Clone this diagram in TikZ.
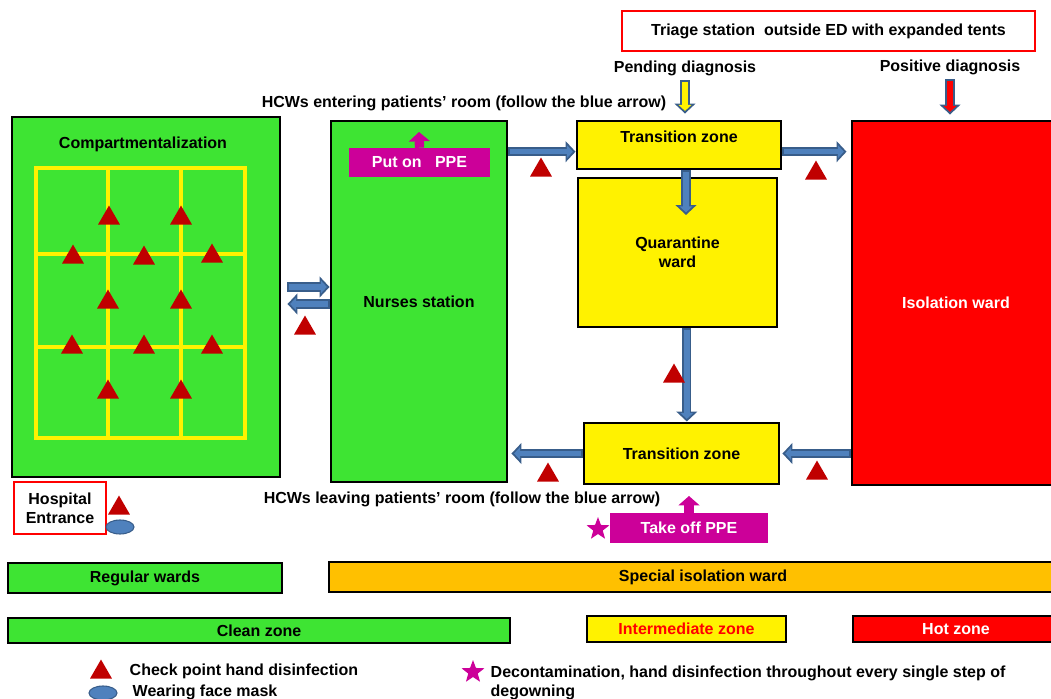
\documentclass[tikz,border=0pt]{standalone}
\usepackage{fontspec}
\setmainfont{Liberation Sans}
\usetikzlibrary{shapes.geometric,arrows.meta,fit,calc}
\definecolor{wardgreen}{HTML}{3EE433}
\definecolor{amber}{HTML}{FFC000}
\definecolor{gown}{HTML}{CC0099}
\definecolor{chkred}{HTML}{C00000}
\definecolor{bluefill}{HTML}{4F81BD}
\definecolor{bluedark}{HTML}{385D8A}
\begin{document}
\begin{tikzpicture}[x=0.75pt, y=-0.75pt, every node/.style={font=\bfseries\fontsize{12}{14.25}\selectfont}]
	\tikzstyle{box} = [draw=black, line width=2.2pt, inner sep=0pt]
	\tikzstyle{gr} = [box, fill=wardgreen]
	\tikzstyle{yl} = [box, fill=yellow]
	\tikzstyle{rd} = [box, fill=red]
	\tikzstyle{or} = [box, fill=amber]
	\tikzstyle{note} = [draw=red, line width=1.5pt, fill=white, inner sep=0pt]
	\tikzstyle{ppe} = [fill=gown, inner sep=0pt]
	\tikzstyle{walls} = [draw=yellow, line width=2.4pt]
	\tikzstyle{tri} = [regular polygon, regular polygon sides=3, fill=chkred, minimum size=19pt, inner sep=0pt, yshift=-2.4pt]
	\tikzstyle{st} = [star, star points=5, star point ratio=2.4, fill=gown, minimum size=18pt, inner sep=0pt]
	\tikzstyle{ms} = [ellipse, draw=bluedark, line width=0.8pt, fill=bluefill, minimum width=21pt, minimum height=10.5pt, inner sep=0pt]
	\tikzstyle{flow}[bluefill] = [draw=bluedark, line width=6.8pt, -{Triangle[length=7.5pt,width=15.5pt]}, postaction={draw=#1, line width=4pt, shorten <=1.2pt, shorten >=2pt, -{Triangle[length=4.5pt,width=9.5pt]}}]
	\tikzstyle{pup} = [draw=gown, line width=7pt, -{Triangle[length=7pt,width=15.5pt]}]
	\useasboundingbox (0,0) rectangle (1051,699);
	\node[gr, fit={(12,117) (280,477)}] (comp) {};
	\node (comptitle) at (143,144) {Compartmentalization};
	\draw[walls] (36,168) rectangle (245,438);
	\foreach \gx in {108,181} \draw[walls] (\gx,168) -- (\gx,438);
	\foreach \gy in {254,347} \draw[walls] (36,\gy) -- (245,\gy);
	\foreach \tx/\ty [count=\i] in {109/215,181/215,73/254,144/255,212/253,108/299,181/299,72/344,144/344,212/344,108/389,181/389}
		\node[tri] (cell\i) at (\tx,\ty) {};
	\node[gr, fit={(331,121) (507,482)}, label=center:Nurses station] (nurse) {};
	\node[ppe, fit={(349,148) (490,177)}, label={[white]center:Put on\ \ \ PPE}] (puton) {};
	\coordinate (putontip) at (419,132);
	\draw[pup] (puton.north) -- (putontip);
	\node (enter) at (464,103) {HCWs entering patients' room (follow the blue arrow)};
	\node[yl, fit={(577,121) (781,169)}] (tz1) {};
	\node (tz1lbl) at (679,137) {Transition zone};
	\node[note, fit={(622,11) (1035,51)}, label=center:{Triage station\ \ outside ED with expanded tents}] (triage) {};
	\node (pend) at (685,68) {Pending diagnosis};
	\node (posd) at (950,67) {Positive diagnosis};
	\node[rd, fit={(852,121) (1060,485)}, label={[white]center:Isolation ward}] (iso) {};
	\node[yl, fit={(578,178) (777,327)}, label={[align=center]center:{Quarantine\\ward}}] (quar) {};
	\node[yl, fit={(584,423) (779,484)}, label=center:Transition zone] (tz2) {};
	\node (leave) at (462,499) {HCWs leaving patients' room (follow the blue arrow)};
	\node[ppe, fit={(610,513) (768,543)}, label={[white]center:Take off PPE}] (takeoff) {};
	\coordinate (takeofftip) at (689,496);
	\draw[pup] (takeoff.north) -- (takeofftip);
	\node[st] (decon) at (598,529) {};
	\node[note, fit={(14,482) (106,534)}, label={[align=center]center:{Hospital\\Entrance}}] (entr) {};
	\node[tri] (entrchk) at (119,505) {};
	\node[ms] (entrmask) at (120,527) {};
	\coordinate (inr) at (300,287);
	\coordinate (outl) at (300,304);
	\draw[flow] ($(comp.east |- inr)+(6,0)$) -- (nurse.west |- inr);
	\draw[flow] (nurse.west |- outl) -- ($(comp.east |- outl)+(6,0)$);
	\node[tri] (chkin) at (305,325) {};
	\coordinate (upper) at ([yshift=-5pt]tz1.west);
	\draw[flow] (nurse.east |- upper) -- (upper);
	\draw[flow] (tz1.east |- upper) -- ($(iso.west |- upper)+(-4,0)$);
	\node[tri] (chkput) at (541,167) {};
	\node[tri] (chkiso) at (816,170) {};
	\draw[flow=yellow] (pend.south) -- ($(pend.south |- tz1.north)+(0,-6)$);
	\draw[flow=red] (posd.south) -- ($(posd.south |- iso.north)+(0,-5)$);
	\coordinate (qin) at (686,215);
	\draw[flow] (tz1.south -| qin) -- (qin);
	\coordinate (qout) at ([xshift=7pt]quar.south);
	\draw[flow] (qout) -- (qout |- tz2.north);
	\node[tri] (chkquar) at (674,373) {};
	\draw[flow] (iso.west |- tz2) -- ($(tz2.east)+(2,0)$);
	\draw[flow] (tz2.west) -- ($(nurse.east |- tz2)+(3,0)$);
	\node[tri] (chkhot) at (817,470) {};
	\node[tri] (chkout) at (548,472) {};
	\node[gr, fit={(8,563) (282,593)}, label=center:Regular wards] (regular) {};
	\node[or, fit={(329,562) (1077,592)}, label=center:Special isolation ward] (special) {};
	\node[gr, fit={(8,618) (510,643)}, label=center:Clean zone] (clean) {};
	\node[yl, fit={(587,616) (786,642)}, label={[red]center:Intermediate zone}] (inter) {};
	\node[rd, fit={(853,616) (1059,642)}, label={[white]center:Hot zone}] (hot) {};
	\node[tri] (keychk) at (101,669) {};
	\node[anchor=west] (keychktxt) at (125,671) {Check point hand disinfection};
	\node[ms] (keymask) at (103,693) {};
	\node[anchor=west] (keymasktxt) at (128,692) {Wearing face mask};
	\node[st] (keystar) at (473,672) {};
	\node[anchor=north west, align=left] (keystartxt) at (486,661) {Decontamination, hand disinfection throughout every single step of\\degowning};
\end{tikzpicture}
\end{document}
